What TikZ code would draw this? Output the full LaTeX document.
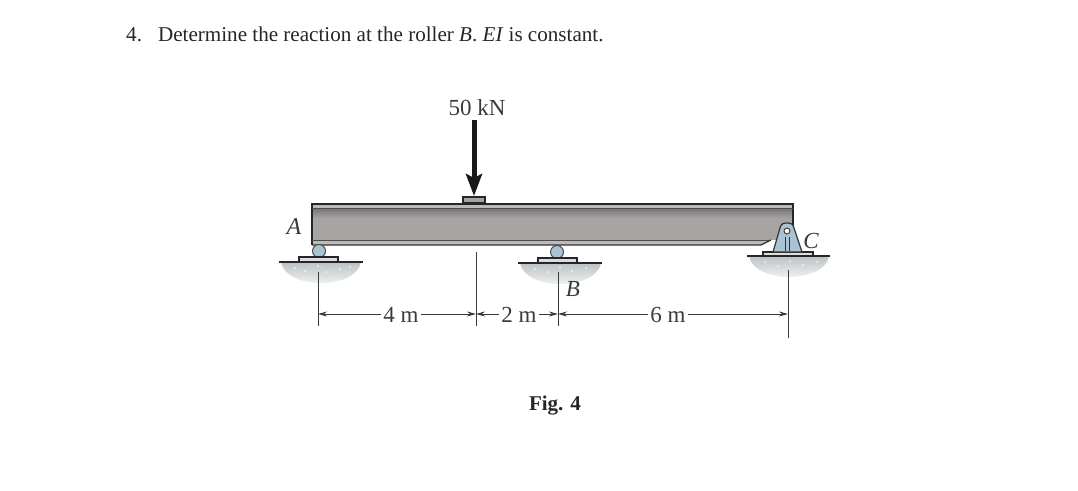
\documentclass[tikz,border=0pt]{standalone}
\usepackage{fontspec}
\usepackage{xcolor}
\usetikzlibrary{arrows.meta,fadings}
\setmainfont{Liberation Serif}
\definecolor{inkgray}{HTML}{3A3A3A}
\definecolor{webgray}{HTML}{A8A3A3}
\definecolor{flangegray}{HTML}{BDB9B9}
\definecolor{steelblue}{HTML}{A9C3D3}
\definecolor{soilgray}{HTML}{BCC2C4}
\tikzset{
    figlabel/.style={text=inkgray,inner sep=0pt,font=\fontsize{23}{26}\selectfont},
    dimline/.style={draw=inkgray,line width=0.9pt},
    dimarrow/.style={dimline,-{Stealth[length=9pt,width=5pt]}},
    outline/.style={draw=black!85,line width=1.6pt},
    soil/.style={fill=soilgray,path fading=south,draw=none},
}
\begin{document}
\begin{tikzpicture}[x=1pt,y=-1pt]
    \useasboundingbox (0,0) rectangle (1078,490);
    \node[anchor=west,inner sep=0pt,text=black!85,font=\fontsize{21.1}{25}\selectfont] (title) at (126,34) {4.\hspace{0.76em}Determine the reaction at the roller \textit{B}. \textit{EI} is constant.};
    % ground
    \fill[soil] (281,262) .. controls (286,290) and (356,290) .. (361,262) -- cycle;
    \fill[soil] (520,263) .. controls (525,291) and (596,291) .. (601,263) -- cycle;
    \fill[soil] (749,256) .. controls (754,284) and (824,284) .. (829,256) -- cycle;
    \foreach \sx/\sy in {295/268,305/271,318/266,326/272,340/269,350/267,535/269,548/272,560/267,572/271,586/268,765/262,778/266,790/261,803/265,817/262}
        \fill[white] (\sx,\sy) circle (0.9);
    % beam
    \fill[webgray] (312,218) rectangle (793,240);
    \shade[top color=black!55,bottom color=webgray] (312,208) rectangle (793,218);
    \fill[flangegray] (312,204) rectangle (793,208);
    \fill[flangegray] (312,240) -- (771,240) -- (761,245) -- (312,245) -- cycle;
    \draw[line width=1.5pt,black!85] (312,245) -- (312,204) -- (793,204) -- (793,228);
    \draw[line width=1pt,black!70] (312,208) -- (793,208);
    \draw[line width=1pt,black!70] (312,240) -- (771,240);
    \draw[line width=1.2pt,black!80] (312,245) -- (761,245) -- (771,240);
    % load
    \draw[outline,fill=webgray] (463,197) rectangle (485,203);
    \coordinate (loadtop) at (474,120);
    \coordinate (loadtip) at (474,196);
    \draw[line width=5pt,black!90,-{Stealth[length=22pt,width=16pt,inset=4pt]}] (loadtop) -- (loadtip);
    \node[figlabel] (load) at (477,108) {50 kN};
    % roller A
    \draw[draw=black!70,line width=1pt,fill=steelblue] (319,251) circle (6.5);
    \draw[outline,fill=flangegray!50] (299,262) -- (299,257) -- (338,257) -- (338,262);
    \draw[outline] (279,262) -- (363,262);
    % roller B
    \draw[draw=black!70,line width=1pt,fill=steelblue] (557,252) circle (6.5);
    \draw[outline,fill=flangegray!50] (538,263) -- (538,258) -- (577,258) -- (577,263);
    \draw[outline] (518,263) -- (602,263);
    % pin C
    \draw[outline,fill=flangegray!50] (763,256) -- (763,252) -- (813,252) -- (813,256);
    \draw[outline] (747,256) -- (830,256);
    \draw[draw=black!80,line width=1.2pt,fill=steelblue] (773,252) -- (780,228) .. controls (781,224) and (783,223) .. (787,223) .. controls (791,223) and (793,224) .. (794,228) -- (802,252) -- cycle;
    \draw[draw=black!80,fill=white,line width=0.9pt] (787,231) circle (3);
    \draw[line width=1pt,black!80] (785,237) -- (785,251);
    \draw[line width=1pt,black!80] (789,237) -- (789,251);
    % labels
    \node[figlabel,font=\fontsize{24}{26}\selectfont\itshape] (labelA) at (294,227) {A};
    \node[figlabel,font=\fontsize{23}{26}\selectfont\itshape] (labelB) at (573,289) {B};
    \node[figlabel,font=\fontsize{23}{26}\selectfont\itshape] (labelC) at (811,241) {C};
    % dimensions
    \coordinate (extAtop) at (318,272);
    \coordinate (dimA) at (318,314);
    \coordinate (extAbot) at (318,326);
    \coordinate (extLtop) at (476,252);
    \coordinate (dimL) at (476,314);
    \coordinate (extLbot) at (476,326);
    \coordinate (extBtop) at (558,272);
    \coordinate (dimB) at (558,314);
    \coordinate (extBbot) at (558,326);
    \coordinate (extCtop) at (788,270);
    \coordinate (dimC) at (788,314);
    \coordinate (extCbot) at (788,338);
    \draw[dimline] (extAtop) -- (extAbot);
    \draw[dimline] (extLtop) -- (extLbot);
    \draw[dimline] (extBtop) -- (extBbot);
    \draw[dimline] (extCtop) -- (extCbot);
    \node[figlabel] (spanAL) at (401,315) {4 m};
    \node[figlabel] (spanLB) at (519,315) {2 m};
    \node[figlabel] (spanBC) at (668,315) {6 m};
    \draw[dimarrow] (spanAL.west) ++(-2,-1) -- (dimA);
    \draw[dimarrow] (spanAL.east) ++(2,-1) -- (dimL);
    \draw[dimarrow] (spanLB.west) ++(-2,-1) -- (dimL);
    \draw[dimarrow] (spanLB.east) ++(2,-1) -- (dimB);
    \draw[dimarrow] (spanBC.west) ++(-2,-1) -- (dimB);
    \draw[dimarrow] (spanBC.east) ++(2,-1) -- (dimC);
    \node[inner sep=0pt,text=black!85,font=\fontsize{21}{25}\selectfont\bfseries] (figcap) at (555,406) {Fig. 4};
\end{tikzpicture}
\end{document}
